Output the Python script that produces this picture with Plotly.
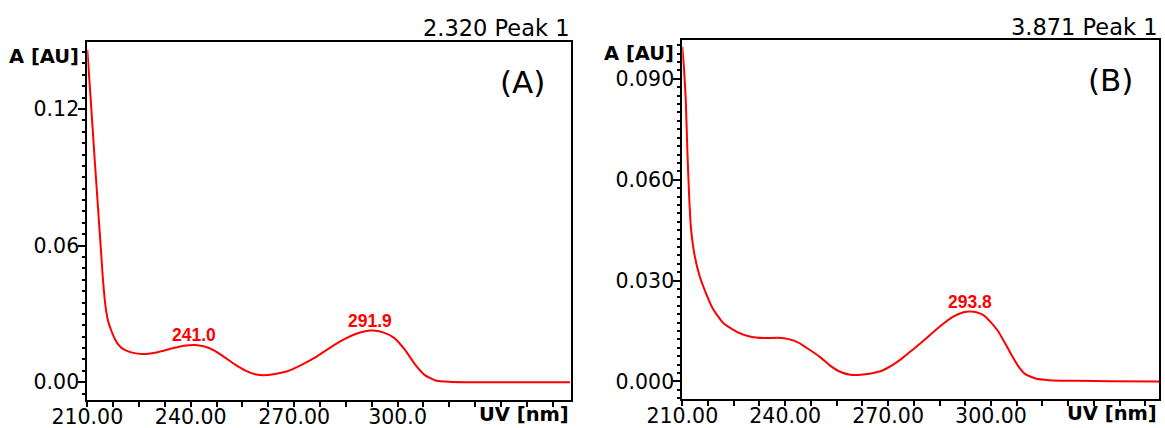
import numpy as np
import plotly.graph_objects as go

# ---------------- data ----------------
wl_a = [210, 211, 212, 213, 214, 214.5, 215, 215.5, 216, 217, 218, 219, 220, 221.5, 223, 226, 230,
        235, 238, 241, 244, 247, 250, 253, 256, 259, 261, 264, 268, 272, 276, 280, 284, 288,
        291, 292, 293, 296, 299, 302, 305, 308, 311, 315, 320, 330, 340, 350]
abs_a = [0.146, 0.124, 0.101, 0.079, 0.057, 0.046, 0.037, 0.031, 0.027, 0.0225, 0.019, 0.0165,
         0.0150, 0.0138, 0.0130, 0.0124, 0.0131, 0.0150, 0.0160, 0.0164, 0.0157, 0.0138, 0.0108,
         0.0076, 0.0050, 0.0034, 0.0031, 0.0035, 0.0048, 0.0075, 0.0108, 0.0148, 0.0185, 0.0213,
         0.0225, 0.0227, 0.0227, 0.0218, 0.0195, 0.0145, 0.0080, 0.0030, 0.0008, 0.0002, 0.0,
         0.0, 0.0, 0.0]

wl_b = [210, 210.5, 211, 211.5, 212, 212.5, 213.5, 215, 217, 219, 222, 226, 230, 234, 238, 241,
        244, 247, 250, 253, 256, 259, 262, 265, 268, 271, 274, 277, 281, 285, 289, 292, 294,
        296, 298, 300, 302, 304, 306, 308, 310, 313, 317, 325, 335, 349]
abs_b = [0.0995, 0.093, 0.084, 0.068, 0.055, 0.046, 0.038, 0.0315, 0.026, 0.0215, 0.0173, 0.0147,
         0.0133, 0.0129, 0.0130, 0.0126, 0.0115, 0.0095, 0.0074, 0.0048, 0.0029, 0.0020, 0.0020,
         0.0024, 0.0031, 0.0047, 0.0068, 0.0093, 0.0127, 0.0163, 0.0193, 0.0206, 0.0208, 0.0205,
         0.0196, 0.0176, 0.0151, 0.0116, 0.0079, 0.0045, 0.0022, 0.0009, 0.0004, 0.0002, 0.0001,
         0.0]

peaks_a = [241.0, 291.9]
peaks_b = [293.8]

x_tick_vals = [210, 240, 270, 300]
x_tick_text_a = ["210.00", "240.00", "270.00", "300.0"]
x_tick_text_b = ["210.00", "240.00", "270.00", "300.00"]
y_tick_vals_a = [0.0, 0.06, 0.12]
y_tick_text_a = ["0.00", "0.06", "0.12"]
y_tick_vals_b = [0.0, 0.03, 0.06, 0.09]
y_tick_text_b = ["0.000", "0.030", "0.060", "0.090"]

titles = ["2.320 Peak 1", "3.871 Peak 1"]
panel_labels = ["(A)", "(B)"]
y_title = "A [AU]"
x_title = "UV [nm]"

# ---------------- figure ----------------
W, H = 1165, 428
RED = "#ff0000"
FONT = "DejaVu Sans"
YTICKFONT = dict(family=FONT, size=20.5, color="black")
XTICKFONT = dict(family=FONT, size=20.5, color="black")

fig = go.Figure()
fig.add_trace(go.Scatter(x=wl_a, y=abs_a, mode="lines", line=dict(color=RED, width=2, shape="spline", smoothing=0.5),
                         xaxis="x", yaxis="y", showlegend=False, hoverinfo="skip"))
fig.add_trace(go.Scatter(x=wl_b, y=abs_b, mode="lines", line=dict(color=RED, width=2, shape="spline", smoothing=0.5),
                         xaxis="x2", yaxis="y2", showlegend=False, hoverinfo="skip"))


def xaxis(domain, rng, ticktext, anchor):
    return dict(domain=domain, range=rng, anchor=anchor, tickmode="array", tickvals=x_tick_vals,
                ticktext=ticktext, ticks="outside", ticklen=5, tickwidth=2, tickcolor="black",
                showline=True, linewidth=2, linecolor="black", mirror=True, showgrid=False,
                zeroline=False, tickfont=XTICKFONT, ticklabelstandoff=-8, automargin=False,
                minor=dict(tickmode="linear", tick0=210, dtick=7.5, ticks="outside", ticklen=5,
                           tickwidth=2, tickcolor="black", showgrid=False))


def yaxis(domain, rng, vals, text, anchor, minor_dtick):
    return dict(domain=domain, range=rng, anchor=anchor, tickmode="array", tickvals=vals,
                ticktext=text, ticks="outside", ticklen=7, tickwidth=2, tickcolor="black",
                showline=True, linewidth=2, linecolor="black", mirror=True, showgrid=False,
                zeroline=False, tickfont=YTICKFONT, ticklabelstandoff=-5, automargin=False,
                minor=dict(tickmode="linear", tick0=0, dtick=minor_dtick, ticks="outside", ticklen=3,
                           tickwidth=2, tickcolor="black", showgrid=False))


xa_dom = [87.3 / W, 571 / W]
ya_dom = [(H - 400) / H, (H - 42.3) / H]
xb_dom = [682.3 / W, 1159 / W]
yb_dom = [(H - 399.3) / H, (H - 39.5) / H]

fig.update_layout(
    width=W, height=H, margin=dict(l=0, r=0, t=0, b=0, autoexpand=False),
    paper_bgcolor="white", plot_bgcolor="white",
    xaxis=xaxis(xa_dom, [210, 350.3], x_tick_text_a, "y"),
    yaxis=yaxis(ya_dom, [-0.0078, 0.1493], y_tick_vals_a, y_tick_text_a, "x", 0.005),
    xaxis2=xaxis(xb_dom, [210, 349], x_tick_text_b, "y2"),
    yaxis2=yaxis(yb_dom, [-0.0053, 0.1017], y_tick_vals_b, y_tick_text_b, "x2", 0.0025),
)

ann = []
# peak labels
for xr, yr, wl, ab, peaks in (("x", "y", wl_a, abs_a, peaks_a), ("x2", "y2", wl_b, abs_b, peaks_b)):
    for p in peaks:
        ann.append(dict(x=p, y=float(np.interp(p, wl, ab)), xref=xr, yref=yr, text=f"<b>{p:.1f}</b>",
                        showarrow=False, yanchor="bottom", yshift=-2,
                        font=dict(family="Liberation Sans", size=17.5, color=RED)))

for dom_x, dom_y, title, lab, tshift, lshift in ((xa_dom, ya_dom, titles[0], panel_labels[0], 14, -40),
                                                 (xb_dom, yb_dom, titles[1], panel_labels[1], 13, -40.5)):
    # run title above the frame, right aligned
    ann.append(dict(x=dom_x[1], y=dom_y[1], xref="paper", yref="paper", text=title, showarrow=False,
                    xanchor="right", yanchor="middle", yshift=tshift,
                    font=dict(family=FONT, size=22.5, color="black")))
    # panel letter
    ann.append(dict(x=dom_x[1], y=dom_y[1], xref="paper", yref="paper", text=lab, showarrow=False,
                    xanchor="right", yanchor="middle", xshift=-24, yshift=lshift,
                    font=dict(family=FONT, size=31, color="black")))
    # y axis title
    ann.append(dict(x=dom_x[0], y=dom_y[1], xref="paper", yref="paper", text=f"<b>{y_title}</b>",
                    showarrow=False, xanchor="right", yanchor="middle", xshift=-6, yshift=-14,
                    font=dict(family=FONT, size=19.5, color="black")))
    # x axis title
    ann.append(dict(x=dom_x[1], y=dom_y[0], xref="paper", yref="paper", text=f"<b>{x_title}</b>",
                    showarrow=False, xanchor="right", yanchor="middle", yshift=-14,
                    font=dict(family=FONT, size=19.5, color="black")))

fig.update_layout(annotations=ann)
fig.write_html("out.html")
